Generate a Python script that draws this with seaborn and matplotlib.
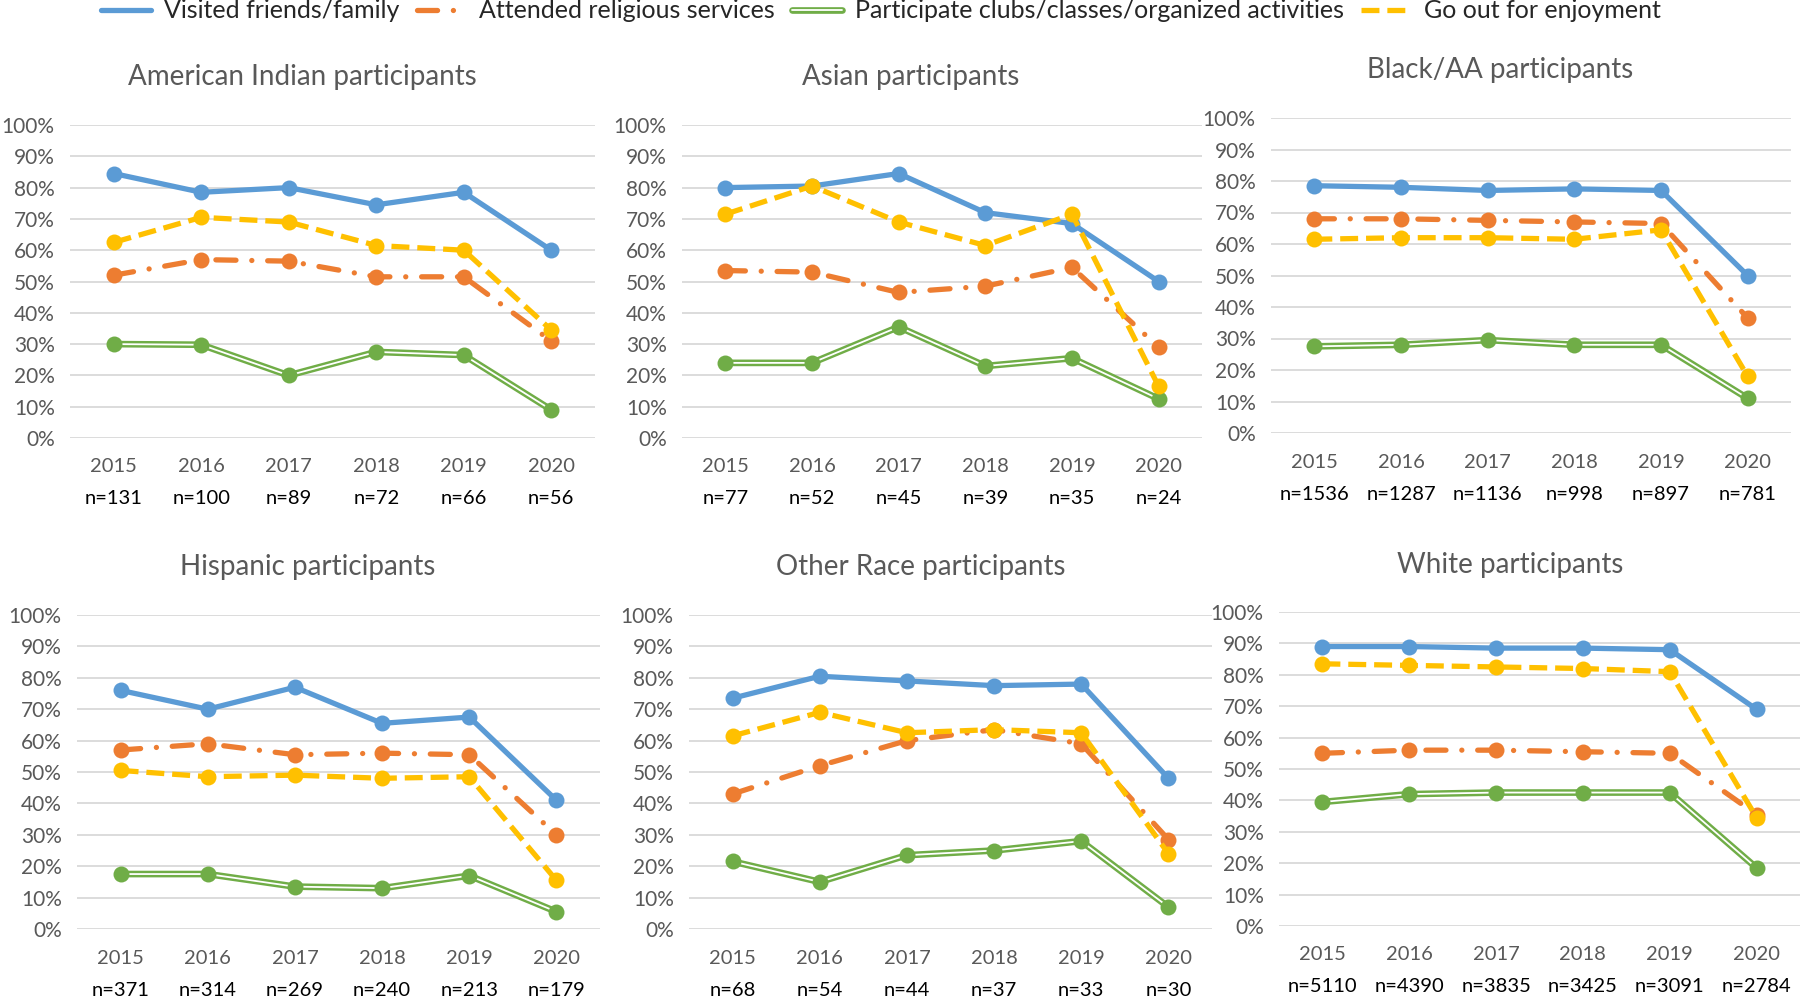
"""Participation in social activities by race, 2015-2020 (six small panels)."""

import matplotlib
matplotlib.use("Agg")
import matplotlib.pyplot as plt
import matplotlib.patheffects as pe
from matplotlib.lines import Line2D
from matplotlib.ticker import PercentFormatter
import seaborn as sns

YEARS = ["2015", "2016", "2017", "2018", "2019", "2020"]
SERIES = [
    "Visited friends/family",
    "Attended religious services",
    "Participate clubs/classes/organized activities",
    "Go out for enjoyment",
]

# American Indian
AI_VISITED = [84.5, 78.5, 80.0, 74.5, 78.5, 60.0]
AI_RELIGIOUS = [52.0, 57.0, 56.5, 51.5, 51.5, 31.0]
AI_CLUBS = [30.0, 29.8, 20.0, 27.5, 26.5, 9.0]
AI_ENJOY = [62.5, 70.5, 69.0, 61.5, 60.0, 34.5]
AI_N = [131, 100, 89, 72, 66, 56]

# Asian
AS_VISITED = [80.0, 80.5, 84.5, 72.0, 68.5, 50.0]
AS_RELIGIOUS = [53.5, 53.0, 46.5, 48.5, 54.5, 29.0]
AS_CLUBS = [24.0, 24.0, 35.5, 23.0, 25.5, 12.5]
AS_ENJOY = [71.5, 80.5, 69.0, 61.5, 71.5, 16.5]
AS_N = [77, 52, 45, 39, 35, 24]

# Black/AA
BL_VISITED = [78.5, 78.0, 77.0, 77.5, 77.0, 50.0]
BL_RELIGIOUS = [68.0, 68.0, 67.5, 67.0, 66.5, 36.5]
BL_CLUBS = [27.5, 28.0, 29.5, 28.0, 28.0, 11.0]
BL_ENJOY = [61.5, 62.0, 62.0, 61.5, 64.5, 18.0]
BL_N = [1536, 1287, 1136, 998, 897, 781]

# Hispanic
HI_VISITED = [76.0, 70.0, 77.0, 65.5, 67.5, 41.0]
HI_RELIGIOUS = [57.0, 59.0, 55.5, 56.0, 55.5, 30.0]
HI_CLUBS = [17.5, 17.5, 13.5, 13.0, 17.0, 5.5]
HI_ENJOY = [50.5, 48.5, 49.0, 48.0, 48.5, 15.5]
HI_N = [371, 314, 269, 240, 213, 179]

# Other race
OT_VISITED = [73.5, 80.5, 79.0, 77.5, 78.0, 48.0]
OT_RELIGIOUS = [43.0, 52.0, 60.0, 63.5, 59.0, 28.5]
OT_CLUBS = [21.5, 15.0, 23.5, 25.0, 28.0, 7.0]
OT_ENJOY = [61.5, 69.0, 62.5, 63.5, 62.5, 24.0]
OT_N = [68, 54, 44, 37, 33, 30]

# White
WH_VISITED = [89.0, 89.0, 88.5, 88.5, 88.0, 69.0]
WH_RELIGIOUS = [55.0, 56.0, 56.0, 55.5, 55.0, 35.5]
WH_CLUBS = [39.5, 42.0, 42.5, 42.5, 42.5, 18.5]
WH_ENJOY = [83.5, 83.0, 82.5, 82.0, 81.0, 34.5]
WH_N = [5110, 4390, 3835, 3425, 3091, 2784]

TITLES = [
    "American Indian participants",
    "Asian participants",
    "Black/AA participants",
    "Hispanic participants",
    "Other Race participants",
    "White participants",
]

PANELS = [
    (AI_N, [AI_VISITED, AI_RELIGIOUS, AI_CLUBS, AI_ENJOY]),
    (AS_N, [AS_VISITED, AS_RELIGIOUS, AS_CLUBS, AS_ENJOY]),
    (BL_N, [BL_VISITED, BL_RELIGIOUS, BL_CLUBS, BL_ENJOY]),
    (HI_N, [HI_VISITED, HI_RELIGIOUS, HI_CLUBS, HI_ENJOY]),
    (OT_N, [OT_VISITED, OT_RELIGIOUS, OT_CLUBS, OT_ENJOY]),
    (WH_N, [WH_VISITED, WH_RELIGIOUS, WH_CLUBS, WH_ENJOY]),
]

W, H = 1800, 999
# plot-area boxes in pixels: left, right, top(100%), bottom(0%)
BOXES = [
    (70, 595, 125, 438),
    (682, 1202, 125, 438),
    (1271, 1791, 118, 433),
    (77, 600, 615, 929),
    (689, 1212, 615, 929),
    (1279, 1800, 612, 926),
]
TITLE_POS = [(302, 77), (911, 77), (1500, 70), (308, 567), (921, 567), (1510, 565)]

BLUE = "#5B9BD5"
ORANGE = "#ED7D31"
GREEN = "#70AD47"
YELLOW = "#FFC000"
GRAY = "#595959"

LW = 3.8
MS = 11.5
GREEN_FX = [pe.withStroke(linewidth=4.8, foreground=GREEN)]
STYLES = [
    dict(color=BLUE, linewidth=LW, linestyle="-"),
    dict(color=ORANGE, linewidth=LW, linestyle=(0, (3.8, 3.0, 0.01, 3.0)),
         dash_capstyle="round"),
    dict(color="white", linewidth=1.3, path_effects=GREEN_FX),
    dict(color=YELLOW, linewidth=LW, linestyle=(0, (3.4, 1.5))),
]

sns.set_theme(style="white")
plt.rcParams["font.family"] = ["Lato", "DejaVu Sans"]

fig = plt.figure(figsize=(18, 9.99), dpi=100)
xs = list(range(len(YEARS)))

for box, (tx, ty), title, (n_vals, series) in zip(BOXES, TITLE_POS, TITLES, PANELS):
    left, right, top, bottom = box
    ax = fig.add_axes([left / W, 1 - bottom / H, (right - left) / W, (bottom - top) / H])

    for i, vals in enumerate(series):
        if i == 2:
            # double (compound) line: white core on a wider green stroke
            sns.lineplot(x=xs, y=vals, ax=ax, errorbar=None, clip_on=False, **STYLES[i])
            sns.scatterplot(x=xs, y=vals, ax=ax, color=GREEN, s=MS ** 2, linewidth=0,
                            zorder=2, clip_on=False)
        else:
            sns.lineplot(x=xs, y=vals, ax=ax, errorbar=None, marker="o",
                         markersize=MS, markeredgewidth=0, clip_on=False, **STYLES[i])

    ax.set_xlim(-0.5, len(YEARS) - 0.5)
    ax.set_ylim(0, 100)
    ax.set_yticks(range(0, 101, 10))
    ax.yaxis.set_major_formatter(PercentFormatter(100, decimals=0))
    ax.set_xticks(xs)
    ax.set_xticklabels([])
    ax.tick_params(axis="y", length=0, pad=11, labelsize=15, labelcolor=GRAY)
    ax.tick_params(axis="x", length=0)
    ax.yaxis.grid(True, color="#D9D9D9", linewidth=1.3)
    ax.xaxis.grid(False)
    ax.set_axisbelow(True)
    sns.despine(ax=ax, left=True, bottom=True)
    ax.set_xlabel("")
    ax.set_ylabel("")

    for x, yr, n in zip(xs, YEARS, n_vals):
        ax.annotate(yr, xy=(x, 0), xycoords=("data", "axes fraction"),
                    xytext=(0, -29), textcoords="offset pixels",
                    ha="center", va="center", fontsize=14.5, color=GRAY)
        ax.annotate(f"n={n}", xy=(x, 0), xycoords=("data", "axes fraction"),
                    xytext=(0, -61), textcoords="offset pixels",
                    ha="center", va="center", fontsize=14.5, color="black")

    fig.text(tx / W, 1 - ty / H, title, ha="center", va="center",
             fontsize=20, color=GRAY)

handles = [Line2D([], [], **STYLES[i]) for i in range(4)]
fig.legend(handles, SERIES, loc="center", bbox_to_anchor=(881 / W, 1 - 11 / H),
           ncol=4, frameon=False, fontsize=18, handlelength=2.0,
           handletextpad=0.5, columnspacing=0.7)

fig.savefig("out.png", dpi=100)
